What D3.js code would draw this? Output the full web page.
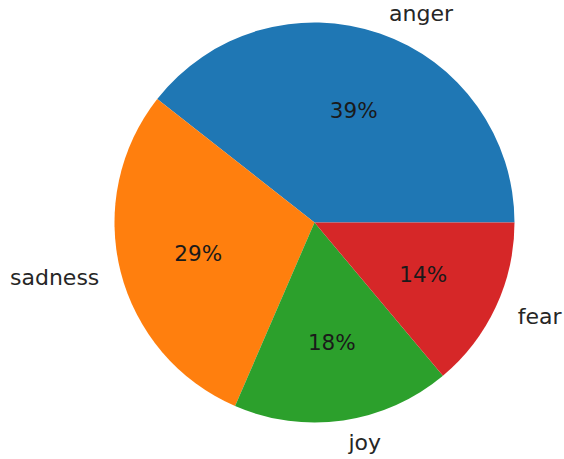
<!DOCTYPE html>
<html><head><meta charset="utf-8">
<script src="https://cdn.jsdelivr.net/npm/d3@7"></script>
<style>html,body{margin:0;padding:0;background:#fff;}svg{display:block;}</style>
</head><body>
<svg id="chart" width="564" height="459"></svg>
<script>
const categories = ["anger", "sadness", "joy", "fear"];
const values = [39.4, 29.1, 17.6, 13.9];
const colors = ["#1f77b4", "#ff7f0e", "#2ca02c", "#d62728"];

const W = 564, H = 459, cx = 314.5, cy = 222.5, R = 200;
const svg = d3.select("#chart");
const g = svg.append("g").attr("transform", `translate(${cx},${cy})`);

const data = categories.map((c, i) => ({cat: c, value: values[i], color: colors[i]}));
const total = d3.sum(values);
const pie = d3.pie().value(d => d.value).sort(null)
  .startAngle(Math.PI / 2).endAngle(Math.PI / 2 - 2 * Math.PI);
const arcs = pie(data);

const arc = d3.arc().innerRadius(0).outerRadius(R);
const labelArc = d3.arc().innerRadius(R * 1.11).outerRadius(R * 1.11);
const pctArc = d3.arc().innerRadius(R * 0.6).outerRadius(R * 0.6);

g.selectAll("path").data(arcs).join("path")
  .attr("d", arc).attr("fill", d => d.data.color);

const font = "'DejaVu Sans', sans-serif";
g.selectAll("text.lbl").data(arcs).join("text").attr("class", "lbl")
  .attr("x", d => labelArc.centroid(d)[0] + (labelArc.centroid(d)[0] > 0 ? 2 : 0))
  .attr("y", d => labelArc.centroid(d)[1])
  .attr("dy", "0.36em")
  .attr("text-anchor", d => labelArc.centroid(d)[0] > 0 ? "start" : "end")
  .attr("font-family", font).attr("font-size", 22).attr("fill", "#262626")
  .text(d => d.data.cat);

g.selectAll("text.pct").data(arcs).join("text").attr("class", "pct")
  .attr("x", d => pctArc.centroid(d)[0])
  .attr("y", d => pctArc.centroid(d)[1])
  .attr("dy", "0.4em")
  .attr("text-anchor", "middle")
  .attr("font-family", font).attr("font-size", 21.5).attr("fill", "#1a1a1a")
  .text(d => Math.round(d.data.value / total * 100) + "%");
</script>
</body></html>
